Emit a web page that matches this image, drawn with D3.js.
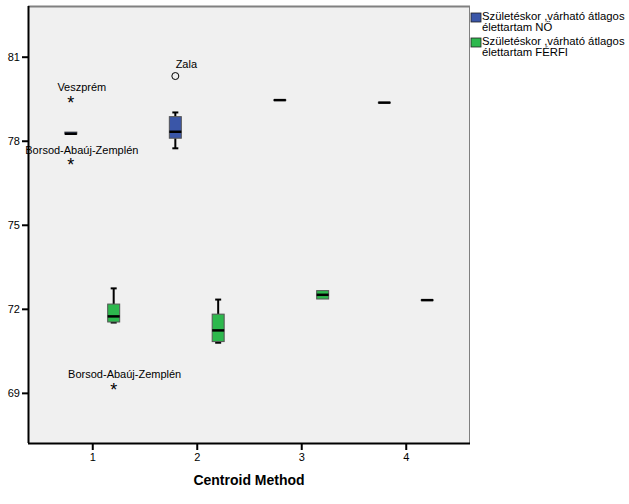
<!DOCTYPE html>
<html><head><meta charset="utf-8">
<script src="https://cdn.jsdelivr.net/npm/d3@7"></script>
<style>body{margin:0;background:#fff;} text{font-family:"Liberation Sans",Arial,sans-serif;}</style>
</head><body>
<svg id="chart" width="629" height="504"></svg>
<script>
const categories = [1, 2, 3, 4];
const yTicks = [69, 72, 75, 78, 81];
const seriesNames = ["Születéskor ,várható átlagos|élettartam NŐ", "Születéskor ,várható átlagos|élettartam FÉRFI"];
const seriesColors = ["#3a56a8", "#2db84d"];
// five-number summaries per category
const noMin    = [78.24, 77.73, 79.43, 79.35];
const noQ1     = [78.24, 78.09, 79.44, 79.35];
const noMedian = [78.25, 78.32, 79.45, 79.36];
const noQ3     = [78.31, 78.86, 79.46, 79.37];
const noMax    = [78.31, 79.01, 79.46, 79.37];
const ferfiMin    = [71.51, 70.79, 72.35, 72.30];
const ferfiQ1     = [71.53, 70.83, 72.35, 72.30];
const ferfiMedian = [71.73, 71.23, 72.50, 72.31];
const ferfiQ3     = [72.17, 71.81, 72.65, 72.32];
const ferfiMax    = [72.73, 72.33, 72.65, 72.32];
// outliers: series index, category, value, label, kind
const outSeries = [0, 0, 0, 1];
const outCat    = [1, 1, 2, 1];
const outValue  = [79.48, 77.25, 80.31, 69.24];
const outLabel  = ["Veszprém", "Borsod-Abaúj-Zemplén", "Zala", "Borsod-Abaúj-Zemplén"];
const outKind   = ["star", "star", "circle", "star"];

const svg = d3.select("#chart");
const L = 28, T = 6, R = 470, B = 443;
const x = d3.scaleLinear().domain([0.385, 4.615]).range([L, R]);
const y = d3.scaleLinear().domain([67.21, 82.81]).range([B, T]);
const offset = [-0.205, 0.205];
const boxW = 12, capW = 6;

svg.append("rect").attr("x", L).attr("y", T).attr("width", R - L).attr("height", B - T).attr("fill", "#f0f0f0");
svg.append("line").attr("x1", L).attr("x2", R).attr("y1", T + 0.5).attr("y2", T + 0.5).attr("stroke", "#808080").attr("stroke-width", 2);
svg.append("line").attr("x1", R - 0.5).attr("x2", R - 0.5).attr("y1", T).attr("y2", B).attr("stroke", "#808080").attr("stroke-width", 1);

// axes
const yAxis = d3.axisLeft(y).tickValues(yTicks).tickSize(6).tickPadding(2).tickFormat(d3.format("d"));
const gy = svg.append("g").attr("transform", `translate(${L},0)`).call(yAxis);
gy.select(".domain").attr("stroke", "#000").attr("stroke-width", 2).attr("d", `M0.5,${T}V${B}`);
gy.selectAll(".tick line").attr("stroke", "#000").attr("stroke-width", 2);
gy.selectAll(".tick text").attr("font-size", 11).attr("fill", "#000").attr("font-family", "Liberation Sans, Arial, sans-serif");

const xAxis = d3.axisBottom(x).tickValues(categories).tickSize(7).tickPadding(3).tickFormat(d3.format("d"));
const gx = svg.append("g").attr("transform", `translate(0,${B})`).call(xAxis);
gx.select(".domain").attr("stroke", "#000").attr("stroke-width", 2).attr("d", `M${L},0.5H${R}`);
gx.selectAll(".tick line").attr("stroke", "#000").attr("stroke-width", 2);
gx.selectAll(".tick text").attr("font-size", 11).attr("fill", "#000").attr("font-family", "Liberation Sans, Arial, sans-serif");

svg.append("text").attr("x", (L + R) / 2).attr("y", 485).attr("text-anchor", "middle")
  .attr("font-size", 14).attr("font-weight", "bold").text("Centroid Method");

// boxes
const stats = [
  [noMin, noQ1, noMedian, noQ3, noMax],
  [ferfiMin, ferfiQ1, ferfiMedian, ferfiQ3, ferfiMax]
];
stats.forEach((s, si) => {
  categories.forEach((c, ci) => {
    const cx = x(c + offset[si]);
    const g = svg.append("g");
    const [mn, q1, md, q3, mx] = s.map(a => a[ci]);
    if (y(mx) < y(q3) - 0.5) {
      g.append("line").attr("x1", cx).attr("x2", cx).attr("y1", y(mx)).attr("y2", y(q3)).attr("stroke", "#000").attr("stroke-width", 2);
      g.append("line").attr("x1", cx - capW / 2).attr("x2", cx + capW / 2).attr("y1", y(mx)).attr("y2", y(mx)).attr("stroke", "#000").attr("stroke-width", 2);
    }
    if (y(mn) > y(q1) + 0.5) {
      g.append("line").attr("x1", cx).attr("x2", cx).attr("y1", y(q1)).attr("y2", y(mn)).attr("stroke", "#000").attr("stroke-width", 2);
      g.append("line").attr("x1", cx - capW / 2).attr("x2", cx + capW / 2).attr("y1", y(mn)).attr("y2", y(mn)).attr("stroke", "#000").attr("stroke-width", 2);
    }
    g.append("rect").attr("x", cx - boxW / 2).attr("y", y(q3)).attr("width", boxW)
      .attr("height", Math.max(0.5, y(q1) - y(q3))).attr("fill", seriesColors[si])
      .attr("stroke", "#555").attr("stroke-width", 1);
    g.append("line").attr("x1", cx - boxW / 2).attr("x2", cx + boxW / 2).attr("y1", y(md)).attr("y2", y(md))
      .attr("stroke", "#000").attr("stroke-width", 2.5);
  });
});

// outliers
outValue.forEach((v, i) => {
  const cx = x(outCat[i] + offset[outSeries[i]]);
  const cy = y(v);
  if (outKind[i] === "circle") {
    svg.append("circle").attr("cx", cx).attr("cy", cy).attr("r", 3.5).attr("fill", "none").attr("stroke", "#000").attr("stroke-width", 1);
  } else {
    svg.append("text").attr("x", cx).attr("y", cy + 9.5).attr("text-anchor", "middle").attr("font-size", 18).text("*");
  }
  svg.append("text").attr("x", cx + 11).attr("y", cy - 8).attr("text-anchor", "middle").attr("font-size", 11).text(outLabel[i]);
});

// legend
seriesNames.forEach((n, i) => {
  const ly = 13 + i * 25;
  svg.append("rect").attr("x", 471).attr("y", ly).attr("width", 10).attr("height", 9)
    .attr("fill", seriesColors[i]).attr("stroke", "#222").attr("stroke-width", 0.8);
  n.split("|").forEach((line, li) => {
    svg.append("text").attr("x", 482).attr("y", ly + 7 + li * 10.5).attr("font-size", 11.3).text(line);
  });
});
</script>
</body></html>
